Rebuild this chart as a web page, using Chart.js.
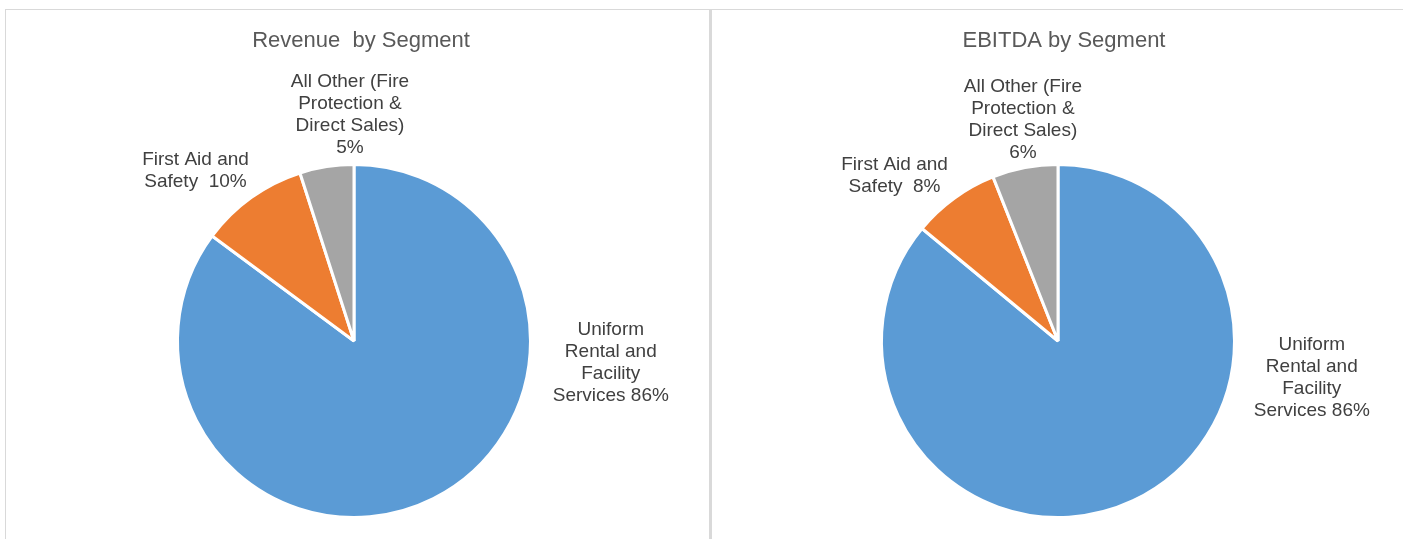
<!DOCTYPE html>
<html>
<head>
<meta charset="utf-8">
<script src="https://cdn.jsdelivr.net/npm/chart.js@4"></script>
<style>
  html, body { margin: 0; padding: 0; background: #fff; overflow: hidden; }
  .panel { position: absolute; top: 9px; height: 540px; box-sizing: border-box; border-top: 1px solid #d9d9d9; }
  #leftPanel { left: 5px; width: 705px; border-left: 1px solid #d9d9d9; border-right: 1px solid #d9d9d9; }
  #rightPanel { left: 710px; width: 700px; border-left: 2px solid #d9d9d9; }
  canvas { display: block; }
</style>
</head>
<body>
<div class="panel" id="leftPanel"><canvas id="revenue" width="703" height="529"></canvas></div>
<div class="panel" id="rightPanel"><canvas id="ebitda" width="691" height="529"></canvas></div>
<script>
const segments = [
  "Uniform Rental and Facility Services",
  "First Aid and Safety",
  "All Other (Fire Protection & Direct Sales)"
]
const revenueShare = [86, 10, 5]
const ebitdaShare = [86, 8, 6]
const segmentColors = ["#5B9BD5", "#ED7D31", "#A5A5A5"]

// how each label wraps, the last entry gets the percent
const labelLines = [
  ["Uniform", "Rental and", "Facility", "Services "],
  ["First Aid and", "Safety  "],
  ["All Other (Fire", "Protection &", "Direct Sales)", ""]
]

const pieLabels = {
  id: "pieLabels",
  afterLayout(chart, args, opts) {
    if (chart.titleBlock) {
      chart.titleBlock.left += opts.titleShift
      chart.titleBlock.right += opts.titleShift
    }
  },
  afterDatasetsDraw(chart, args, opts) {
    const ctx = chart.ctx
    const meta = chart.getDatasetMeta(0)
    const values = chart.data.datasets[0].data
    ctx.save()
    ctx.font = "19px 'Liberation Sans', Arial, sans-serif"
    ctx.fillStyle = "#404040"
    ctx.textAlign = "center"
    ctx.textBaseline = "middle"
    meta.data.forEach((arc, i) => {
      const { x, y, outerRadius } = arc.getProps(["x", "y", "outerRadius"], true)
      const lines = labelLines[i].slice()
      lines[lines.length - 1] += values[i] + "%"
      const cx = x + opts.offsets[i][0] * outerRadius
      const cy = y + opts.offsets[i][1] * outerRadius
      lines.forEach((line, k) => {
        ctx.fillText(line, cx, cy + (k - (lines.length - 1) / 2) * 22)
      })
    })
    ctx.restore()
  }
}

function makePie(id, title, values, padding, offsets, titleShift) {
  return new Chart(document.getElementById(id), {
    type: "pie",
    data: {
      labels: segments,
      datasets: [{
        data: values,
        backgroundColor: segmentColors,
        borderColor: "#ffffff",
        borderWidth: 3
      }]
    },
    options: {
      responsive: false,
      animation: false,
      radius: 176.5,
      layout: { padding: padding },
      plugins: {
        legend: { display: false },
        tooltip: { enabled: false },
        title: {
          display: true,
          text: title,
          color: "#595959",
          font: { family: "'Liberation Sans', Arial, sans-serif", size: 22, weight: "normal" },
          padding: { top: 18, bottom: 110.6 }
        },
        pieLabels: { offsets: offsets, titleShift: titleShift }
      }
    },
    plugins: [pieLabels]
  })
}

makePie("revenue", "Revenue  by Segment", revenueShare,
  { left: 0, right: 7, top: 0, bottom: 22 },
  [[1.455, 0.125], [-0.898, -0.966], [-0.023, -1.284]], 7)

makePie("ebitda", "EBITDA by Segment", ebitdaShare,
  { left: 1, right: 0, top: 0, bottom: 22 },
  [[1.438, 0.21], [-0.926, -0.938], [-0.199, -1.256]], 6)
</script>
</body>
</html>
